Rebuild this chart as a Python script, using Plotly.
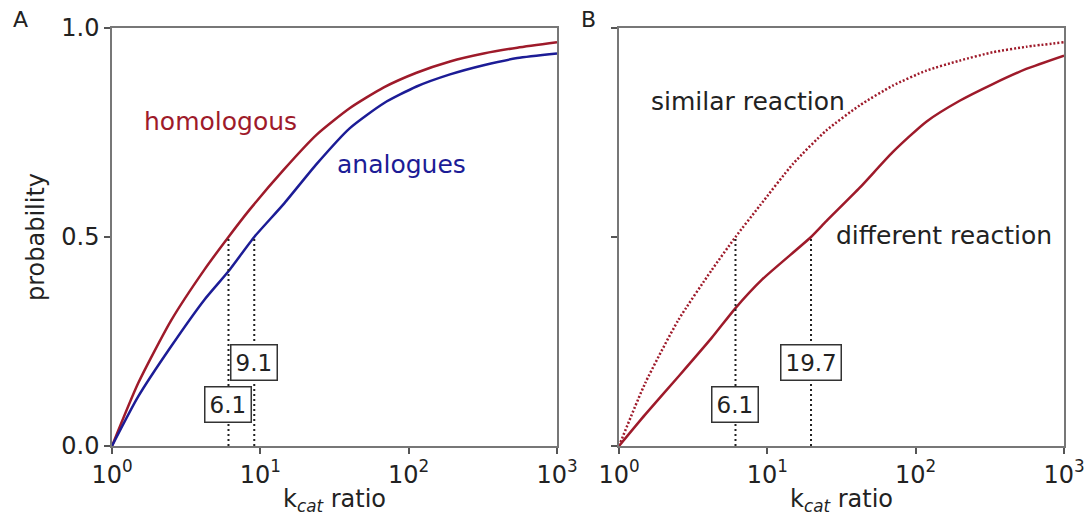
import math
import plotly.graph_objects as go

# ---- data ----
x_homologous = [1, 1.5, 2.5, 4.2, 6.1, 8.5, 14.3, 24, 40, 68, 113, 190, 320, 540, 1000]
homologous = [0, 0.15, 0.30, 0.422, 0.5, 0.566, 0.66, 0.745, 0.808, 0.858, 0.893, 0.92, 0.939, 0.953, 0.966]

x_analogues = [1, 1.5, 2.5, 4.2, 6.1, 9.1, 14.3, 24, 40, 68, 113, 190, 320, 540, 1000]
analogues = [0, 0.118, 0.238, 0.35, 0.418, 0.5, 0.578, 0.675, 0.76, 0.82, 0.86, 0.889, 0.911, 0.928, 0.939]

x_similar = [1, 1.5, 2.5, 4.2, 6.1, 8.9, 14.9, 25, 42, 70, 118, 198, 331, 556, 1000]
similar = [0, 0.15, 0.30, 0.42, 0.5, 0.575, 0.675, 0.755, 0.815, 0.862, 0.898, 0.922, 0.942, 0.955, 0.966]

x_different = [1, 1.5, 2.5, 4.2, 6.1, 9.2, 19.7, 25, 42, 70, 118, 198, 331, 556, 1000]
different = [0, 0.075, 0.165, 0.258, 0.33, 0.398, 0.5, 0.538, 0.618, 0.703, 0.776, 0.826, 0.866, 0.902, 0.934]

medians_a = [6.1, 9.1]
medians_b = [6.1, 19.7]
box_y = [0.1, 0.2]

x_tickvals = [1, 10, 100, 1000]
x_ticktext = ["10<sup>0</sup>", "10<sup>1</sup>", "10<sup>2</sup>", "10<sup>3</sup>"]
y_tickvals = [0, 0.5, 1.0]
y_ticktext = ["0.0", "0.5", "1.0"]

RED = "#9e1a2a"
BLUE = "#1c1c96"
INK = "#222222"
FONT = "DejaVu Sans"

fig = go.Figure()

spline = dict(shape="spline", smoothing=0.6)

# Panel A
fig.add_trace(go.Scatter(x=x_homologous, y=homologous, mode="lines", line=dict(color=RED, width=2.5, **spline),
                         xaxis="x", yaxis="y", showlegend=False))
fig.add_trace(go.Scatter(x=x_analogues, y=analogues, mode="lines", line=dict(color=BLUE, width=2.5, **spline),
                         xaxis="x", yaxis="y", showlegend=False))
for m in medians_a:
    fig.add_trace(go.Scatter(x=[m, m], y=[0, 0.5], mode="lines", line=dict(color=INK, width=2, dash="2px,3px"),
                             xaxis="x", yaxis="y", showlegend=False))

# Panel B
fig.add_trace(go.Scatter(x=x_similar, y=similar, mode="lines", line=dict(color=RED, width=2.5, dash="2px,2px", **spline),
                         xaxis="x2", yaxis="y2", showlegend=False))
fig.add_trace(go.Scatter(x=x_different, y=different, mode="lines", line=dict(color=RED, width=2.5, **spline),
                         xaxis="x2", yaxis="y2", showlegend=False))
for m in medians_b:
    fig.add_trace(go.Scatter(x=[m, m], y=[0, 0.5], mode="lines", line=dict(color=INK, width=2, dash="2px,3px"),
                             xaxis="x2", yaxis="y2", showlegend=False))

annotations = []
for xr, yr, meds in (("x", "y", medians_a), ("x2", "y2", medians_b)):
    for m, by in zip(meds, box_y):
        annotations.append(dict(x=math.log10(m), y=by, xref=xr, yref=yr, text=f"{m}", showarrow=False,
                                font=dict(size=23, color=INK, family=FONT), bgcolor="white",
                                bordercolor="#333", borderwidth=1.5, borderpad=4))

annotations += [
    dict(x=0.2, y=0.776, xref="x", yref="y", text="homologous", showarrow=False, xanchor="left",
         font=dict(size=25, color=RED, family=FONT)),
    dict(x=1.5, y=0.673, xref="x", yref="y", text="analogues", showarrow=False, xanchor="left",
         font=dict(size=25, color=BLUE, family=FONT)),
    dict(x=0.2, y=0.823, xref="x2", yref="y2", text="similar reaction", showarrow=False, xanchor="left",
         font=dict(size=25, color=INK, family=FONT)),
    dict(x=1.45, y=0.504, xref="x2", yref="y2", text="different reaction", showarrow=False, xanchor="left",
         font=dict(size=25, color=INK, family=FONT)),
]

W, H = 1092, 516
ML, MR, MT, MB = 112, 28, 28, 70
pw, ph = W - ML - MR, H - MT - MB

for letter, px, py in (("A", 20, 20), ("B", 588, 19)):
    annotations.append(dict(x=(px - ML) / pw, y=1 - (py - MT) / ph, xref="paper", yref="paper", text=letter,
                            showarrow=False, xanchor="center", yanchor="middle",
                            font=dict(size=22, color=INK, family=FONT)))

xaxis_common = dict(type="log", range=[0, 3], tickvals=x_tickvals, ticktext=x_ticktext, ticks="outside", ticklen=6,
                    tickwidth=1.5, tickcolor="#555", showline=True, linecolor="#777", linewidth=1.5, mirror=True,
                    showgrid=False, zeroline=False, automargin=False,
                    tickfont=dict(size=24, color=INK, family=FONT),
                    title=dict(text="k<sub><i>cat</i></sub> ratio", font=dict(size=24, color=INK, family=FONT), standoff=4))
yaxis_common = dict(range=[0, 1], tickvals=y_tickvals, ticks="outside", ticklen=6, tickwidth=1.5, tickcolor="#555",
                    showline=True, linecolor="#777", linewidth=1.5, mirror=True, showgrid=False, zeroline=False,
                    automargin=False, tickfont=dict(size=24, color=INK, family=FONT))

fig.update_layout(
    width=W, height=H,
    margin=dict(l=ML, r=MR, t=MT, b=MB, pad=0),
    paper_bgcolor="white", plot_bgcolor="white",
    xaxis=dict(domain=[0, 445 / pw], anchor="y", **xaxis_common),
    yaxis=dict(domain=[0, 1], anchor="x", ticktext=y_ticktext,
               title=dict(text="probability", font=dict(size=24, color=INK, family=FONT), standoff=10), **yaxis_common),
    xaxis2=dict(domain=[507 / pw, 1], anchor="y2", **xaxis_common),
    yaxis2=dict(domain=[0, 1], anchor="x2", showticklabels=False, **yaxis_common),
    annotations=annotations,
)

fig.write_html("out.html")
